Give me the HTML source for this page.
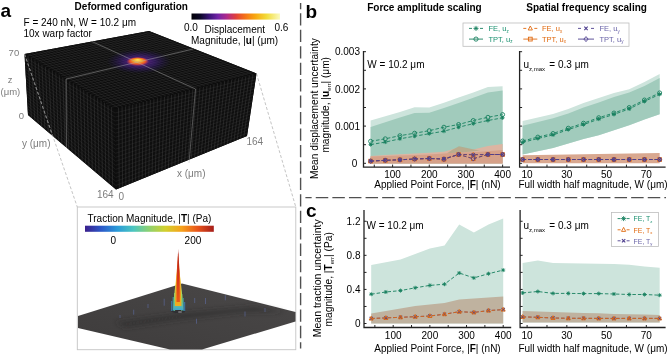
<!DOCTYPE html>
<html><head><meta charset="utf-8"><style>
html,body{margin:0;padding:0;background:#fff;width:668px;height:355px;overflow:hidden}
svg{display:block;font-family:"Liberation Sans", sans-serif;will-change:transform}
</style></head><body>
<svg width="668" height="355" viewBox="0 0 668 355">
<text x="0.6" y="17.2" font-size="19" font-weight="bold" fill="#000" text-anchor="start" >a</text>
<text x="74.6" y="9.6" font-size="10" font-weight="bold" fill="#000" text-anchor="start" >Deformed configuration</text>
<text x="23.5" y="25.6" font-size="10" font-weight="normal" fill="#000" text-anchor="start" >F = 240 nN, W = 10.2 μm</text>
<text x="23.5" y="37.3" font-size="10" font-weight="normal" fill="#000" text-anchor="start" >10x warp factor</text>
<defs><linearGradient id="inf" x1="0" x2="1" y1="0" y2="0"><stop offset="0" stop-color="#000006"/><stop offset="0.1" stop-color="#0c0828"/><stop offset="0.2" stop-color="#3a1478"/><stop offset="0.3" stop-color="#7424a8"/><stop offset="0.4" stop-color="#b02a8a"/><stop offset="0.5" stop-color="#e0403c"/><stop offset="0.6" stop-color="#f47018"/><stop offset="0.72" stop-color="#f8a810"/><stop offset="0.85" stop-color="#f2dc3c"/><stop offset="1" stop-color="#fafac0"/></linearGradient>
<linearGradient id="jet" x1="0" x2="1" y1="0" y2="0"><stop offset="0.000" stop-color="#3b1f8c"/><stop offset="0.125" stop-color="#2c58c8"/><stop offset="0.250" stop-color="#2a9ad8"/><stop offset="0.375" stop-color="#4cc6c0"/><stop offset="0.500" stop-color="#8fd16f"/><stop offset="0.625" stop-color="#d2d02e"/><stop offset="0.750" stop-color="#f7a21c"/><stop offset="0.875" stop-color="#e8541a"/><stop offset="1.000" stop-color="#a51d1a"/></linearGradient>
<radialGradient id="hot" cx="0.5" cy="0.5" r="0.5" fx="0.5" fy="0.3"><stop offset="0" stop-color="#fbe66a"/><stop offset="0.35" stop-color="#f9b020"/><stop offset="0.7" stop-color="#e4502c"/><stop offset="1" stop-color="#a02a70" stop-opacity="0"/></radialGradient>
<radialGradient id="halo" cx="0.5" cy="0.5" r="0.5"><stop offset="0" stop-color="#7a2a9a" stop-opacity="0.9"/><stop offset="0.5" stop-color="#4a2090" stop-opacity="0.55"/><stop offset="1" stop-color="#201060" stop-opacity="0"/></radialGradient>
</defs>
<rect x="191.5" y="13.5" width="88.5" height="6.1" fill="url(#inf)"/>
<text x="184" y="30.5" font-size="10" font-weight="normal" fill="#000" text-anchor="start" >0.0</text>
<text x="204.5" y="33.2" font-size="10" font-weight="normal" fill="#000" text-anchor="start" >Displacement</text>
<text x="274.5" y="30.5" font-size="10" font-weight="normal" fill="#000" text-anchor="start" >0.6</text>
<text x="191" y="44.2" font-size="10" font-weight="normal" fill="#000" text-anchor="start" >Magnitude, |<tspan font-weight="bold">u</tspan>| (μm)</text>
<polygon points="24.50,54.00 149.00,31.00 256.50,73.50 247.00,136.00 116.00,189.50 28.00,115.00" fill="#0e0e0e" />
<polygon points="24.50,54.00 115.00,109.00 116.00,189.50 28.00,115.00" fill="#0e0e0e" />
<polygon points="115.00,109.00 256.50,73.50 247.00,136.00 116.00,189.50" fill="#0e0e0e" />
<polygon points="24.50,54.00 149.00,31.00 256.50,73.50 115.00,109.00" fill="#0c0c0c" />
<line x1="27.98" y1="56.12" x2="31.38" y2="117.87" stroke="#4a4a4a" stroke-width="0.55" stroke-opacity="0.7"/>
<line x1="31.46" y1="58.23" x2="34.77" y2="120.73" stroke="#4a4a4a" stroke-width="0.55" stroke-opacity="0.7"/>
<line x1="34.94" y1="60.35" x2="38.15" y2="123.60" stroke="#4a4a4a" stroke-width="0.55" stroke-opacity="0.7"/>
<line x1="38.42" y1="62.46" x2="41.54" y2="126.46" stroke="#4a4a4a" stroke-width="0.55" stroke-opacity="0.7"/>
<line x1="41.90" y1="64.58" x2="44.92" y2="129.33" stroke="#4a4a4a" stroke-width="0.55" stroke-opacity="0.7"/>
<line x1="45.38" y1="66.69" x2="48.31" y2="132.19" stroke="#4a4a4a" stroke-width="0.55" stroke-opacity="0.7"/>
<line x1="48.87" y1="68.81" x2="51.69" y2="135.06" stroke="#4a4a4a" stroke-width="0.55" stroke-opacity="0.7"/>
<line x1="52.35" y1="70.92" x2="55.08" y2="137.92" stroke="#4a4a4a" stroke-width="0.55" stroke-opacity="0.7"/>
<line x1="55.83" y1="73.04" x2="58.46" y2="140.79" stroke="#4a4a4a" stroke-width="0.55" stroke-opacity="0.7"/>
<line x1="59.31" y1="75.15" x2="61.85" y2="143.65" stroke="#4a4a4a" stroke-width="0.55" stroke-opacity="0.7"/>
<line x1="62.79" y1="77.27" x2="65.23" y2="146.52" stroke="#4a4a4a" stroke-width="0.55" stroke-opacity="0.7"/>
<line x1="66.27" y1="79.38" x2="68.62" y2="149.38" stroke="#4a4a4a" stroke-width="0.55" stroke-opacity="0.7"/>
<line x1="69.75" y1="81.50" x2="72.00" y2="152.25" stroke="#4a4a4a" stroke-width="0.55" stroke-opacity="0.7"/>
<line x1="73.23" y1="83.62" x2="75.38" y2="155.12" stroke="#4a4a4a" stroke-width="0.55" stroke-opacity="0.7"/>
<line x1="76.71" y1="85.73" x2="78.77" y2="157.98" stroke="#4a4a4a" stroke-width="0.55" stroke-opacity="0.7"/>
<line x1="80.19" y1="87.85" x2="82.15" y2="160.85" stroke="#4a4a4a" stroke-width="0.55" stroke-opacity="0.7"/>
<line x1="83.67" y1="89.96" x2="85.54" y2="163.71" stroke="#4a4a4a" stroke-width="0.55" stroke-opacity="0.7"/>
<line x1="87.15" y1="92.08" x2="88.92" y2="166.58" stroke="#4a4a4a" stroke-width="0.55" stroke-opacity="0.7"/>
<line x1="90.63" y1="94.19" x2="92.31" y2="169.44" stroke="#4a4a4a" stroke-width="0.55" stroke-opacity="0.7"/>
<line x1="94.12" y1="96.31" x2="95.69" y2="172.31" stroke="#4a4a4a" stroke-width="0.55" stroke-opacity="0.7"/>
<line x1="97.60" y1="98.42" x2="99.08" y2="175.17" stroke="#4a4a4a" stroke-width="0.55" stroke-opacity="0.7"/>
<line x1="101.08" y1="100.54" x2="102.46" y2="178.04" stroke="#4a4a4a" stroke-width="0.55" stroke-opacity="0.7"/>
<line x1="104.56" y1="102.65" x2="105.85" y2="180.90" stroke="#4a4a4a" stroke-width="0.55" stroke-opacity="0.7"/>
<line x1="108.04" y1="104.77" x2="109.23" y2="183.77" stroke="#4a4a4a" stroke-width="0.55" stroke-opacity="0.7"/>
<line x1="111.52" y1="106.88" x2="112.62" y2="186.63" stroke="#4a4a4a" stroke-width="0.55" stroke-opacity="0.7"/>
<line x1="24.68" y1="57.05" x2="115.05" y2="113.03" stroke="#4a4a4a" stroke-width="0.5" stroke-opacity="0.45"/>
<line x1="24.85" y1="60.10" x2="115.10" y2="117.05" stroke="#4a4a4a" stroke-width="0.5" stroke-opacity="0.45"/>
<line x1="25.02" y1="63.15" x2="115.15" y2="121.08" stroke="#4a4a4a" stroke-width="0.5" stroke-opacity="0.45"/>
<line x1="25.20" y1="66.20" x2="115.20" y2="125.10" stroke="#4a4a4a" stroke-width="0.5" stroke-opacity="0.45"/>
<line x1="25.38" y1="69.25" x2="115.25" y2="129.12" stroke="#4a4a4a" stroke-width="0.5" stroke-opacity="0.45"/>
<line x1="25.55" y1="72.30" x2="115.30" y2="133.15" stroke="#4a4a4a" stroke-width="0.5" stroke-opacity="0.45"/>
<line x1="25.73" y1="75.35" x2="115.35" y2="137.18" stroke="#4a4a4a" stroke-width="0.5" stroke-opacity="0.45"/>
<line x1="25.90" y1="78.40" x2="115.40" y2="141.20" stroke="#4a4a4a" stroke-width="0.5" stroke-opacity="0.45"/>
<line x1="26.07" y1="81.45" x2="115.45" y2="145.22" stroke="#4a4a4a" stroke-width="0.5" stroke-opacity="0.45"/>
<line x1="26.25" y1="84.50" x2="115.50" y2="149.25" stroke="#4a4a4a" stroke-width="0.5" stroke-opacity="0.45"/>
<line x1="26.43" y1="87.55" x2="115.55" y2="153.28" stroke="#4a4a4a" stroke-width="0.5" stroke-opacity="0.45"/>
<line x1="26.60" y1="90.60" x2="115.60" y2="157.30" stroke="#4a4a4a" stroke-width="0.5" stroke-opacity="0.45"/>
<line x1="26.77" y1="93.65" x2="115.65" y2="161.32" stroke="#4a4a4a" stroke-width="0.5" stroke-opacity="0.45"/>
<line x1="26.95" y1="96.70" x2="115.70" y2="165.35" stroke="#4a4a4a" stroke-width="0.5" stroke-opacity="0.45"/>
<line x1="27.12" y1="99.75" x2="115.75" y2="169.38" stroke="#4a4a4a" stroke-width="0.5" stroke-opacity="0.45"/>
<line x1="27.30" y1="102.80" x2="115.80" y2="173.40" stroke="#4a4a4a" stroke-width="0.5" stroke-opacity="0.45"/>
<line x1="27.48" y1="105.85" x2="115.85" y2="177.43" stroke="#4a4a4a" stroke-width="0.5" stroke-opacity="0.45"/>
<line x1="27.65" y1="108.90" x2="115.90" y2="181.45" stroke="#4a4a4a" stroke-width="0.5" stroke-opacity="0.45"/>
<line x1="27.82" y1="111.95" x2="115.95" y2="185.47" stroke="#4a4a4a" stroke-width="0.5" stroke-opacity="0.45"/>
<line x1="118.54" y1="108.11" x2="119.28" y2="188.16" stroke="#4a4a4a" stroke-width="0.55" stroke-opacity="0.7"/>
<line x1="122.08" y1="107.22" x2="122.55" y2="186.82" stroke="#4a4a4a" stroke-width="0.55" stroke-opacity="0.7"/>
<line x1="125.61" y1="106.34" x2="125.83" y2="185.49" stroke="#4a4a4a" stroke-width="0.55" stroke-opacity="0.7"/>
<line x1="129.15" y1="105.45" x2="129.10" y2="184.15" stroke="#4a4a4a" stroke-width="0.55" stroke-opacity="0.7"/>
<line x1="132.69" y1="104.56" x2="132.38" y2="182.81" stroke="#4a4a4a" stroke-width="0.55" stroke-opacity="0.7"/>
<line x1="136.22" y1="103.67" x2="135.65" y2="181.47" stroke="#4a4a4a" stroke-width="0.55" stroke-opacity="0.7"/>
<line x1="139.76" y1="102.79" x2="138.93" y2="180.14" stroke="#4a4a4a" stroke-width="0.55" stroke-opacity="0.7"/>
<line x1="143.30" y1="101.90" x2="142.20" y2="178.80" stroke="#4a4a4a" stroke-width="0.55" stroke-opacity="0.7"/>
<line x1="146.84" y1="101.01" x2="145.47" y2="177.46" stroke="#4a4a4a" stroke-width="0.55" stroke-opacity="0.7"/>
<line x1="150.38" y1="100.12" x2="148.75" y2="176.12" stroke="#4a4a4a" stroke-width="0.55" stroke-opacity="0.7"/>
<line x1="153.91" y1="99.24" x2="152.03" y2="174.79" stroke="#4a4a4a" stroke-width="0.55" stroke-opacity="0.7"/>
<line x1="157.45" y1="98.35" x2="155.30" y2="173.45" stroke="#4a4a4a" stroke-width="0.55" stroke-opacity="0.7"/>
<line x1="160.99" y1="97.46" x2="158.57" y2="172.11" stroke="#4a4a4a" stroke-width="0.55" stroke-opacity="0.7"/>
<line x1="164.53" y1="96.58" x2="161.85" y2="170.78" stroke="#4a4a4a" stroke-width="0.55" stroke-opacity="0.7"/>
<line x1="168.06" y1="95.69" x2="165.12" y2="169.44" stroke="#4a4a4a" stroke-width="0.55" stroke-opacity="0.7"/>
<line x1="171.60" y1="94.80" x2="168.40" y2="168.10" stroke="#4a4a4a" stroke-width="0.55" stroke-opacity="0.7"/>
<line x1="175.14" y1="93.91" x2="171.68" y2="166.76" stroke="#4a4a4a" stroke-width="0.55" stroke-opacity="0.7"/>
<line x1="178.68" y1="93.03" x2="174.95" y2="165.43" stroke="#4a4a4a" stroke-width="0.55" stroke-opacity="0.7"/>
<line x1="182.21" y1="92.14" x2="178.22" y2="164.09" stroke="#4a4a4a" stroke-width="0.55" stroke-opacity="0.7"/>
<line x1="185.75" y1="91.25" x2="181.50" y2="162.75" stroke="#4a4a4a" stroke-width="0.55" stroke-opacity="0.7"/>
<line x1="189.29" y1="90.36" x2="184.78" y2="161.41" stroke="#4a4a4a" stroke-width="0.55" stroke-opacity="0.7"/>
<line x1="192.82" y1="89.47" x2="188.05" y2="160.07" stroke="#4a4a4a" stroke-width="0.55" stroke-opacity="0.7"/>
<line x1="196.36" y1="88.59" x2="191.32" y2="158.74" stroke="#4a4a4a" stroke-width="0.55" stroke-opacity="0.7"/>
<line x1="199.90" y1="87.70" x2="194.60" y2="157.40" stroke="#4a4a4a" stroke-width="0.55" stroke-opacity="0.7"/>
<line x1="203.44" y1="86.81" x2="197.88" y2="156.06" stroke="#4a4a4a" stroke-width="0.55" stroke-opacity="0.7"/>
<line x1="206.98" y1="85.92" x2="201.15" y2="154.72" stroke="#4a4a4a" stroke-width="0.55" stroke-opacity="0.7"/>
<line x1="210.51" y1="85.04" x2="204.43" y2="153.39" stroke="#4a4a4a" stroke-width="0.55" stroke-opacity="0.7"/>
<line x1="214.05" y1="84.15" x2="207.70" y2="152.05" stroke="#4a4a4a" stroke-width="0.55" stroke-opacity="0.7"/>
<line x1="217.59" y1="83.26" x2="210.97" y2="150.71" stroke="#4a4a4a" stroke-width="0.55" stroke-opacity="0.7"/>
<line x1="221.12" y1="82.38" x2="214.25" y2="149.38" stroke="#4a4a4a" stroke-width="0.55" stroke-opacity="0.7"/>
<line x1="224.66" y1="81.49" x2="217.53" y2="148.04" stroke="#4a4a4a" stroke-width="0.55" stroke-opacity="0.7"/>
<line x1="228.20" y1="80.60" x2="220.80" y2="146.70" stroke="#4a4a4a" stroke-width="0.55" stroke-opacity="0.7"/>
<line x1="231.74" y1="79.71" x2="224.07" y2="145.36" stroke="#4a4a4a" stroke-width="0.55" stroke-opacity="0.7"/>
<line x1="235.27" y1="78.83" x2="227.35" y2="144.03" stroke="#4a4a4a" stroke-width="0.55" stroke-opacity="0.7"/>
<line x1="238.81" y1="77.94" x2="230.62" y2="142.69" stroke="#4a4a4a" stroke-width="0.55" stroke-opacity="0.7"/>
<line x1="242.35" y1="77.05" x2="233.90" y2="141.35" stroke="#4a4a4a" stroke-width="0.55" stroke-opacity="0.7"/>
<line x1="245.89" y1="76.16" x2="237.18" y2="140.01" stroke="#4a4a4a" stroke-width="0.55" stroke-opacity="0.7"/>
<line x1="249.42" y1="75.28" x2="240.45" y2="138.68" stroke="#4a4a4a" stroke-width="0.55" stroke-opacity="0.7"/>
<line x1="252.96" y1="74.39" x2="243.72" y2="137.34" stroke="#4a4a4a" stroke-width="0.55" stroke-opacity="0.7"/>
<line x1="115.05" y1="113.03" x2="256.02" y2="76.62" stroke="#4a4a4a" stroke-width="0.5" stroke-opacity="0.45"/>
<line x1="115.10" y1="117.05" x2="255.55" y2="79.75" stroke="#4a4a4a" stroke-width="0.5" stroke-opacity="0.45"/>
<line x1="115.15" y1="121.08" x2="255.07" y2="82.88" stroke="#4a4a4a" stroke-width="0.5" stroke-opacity="0.45"/>
<line x1="115.20" y1="125.10" x2="254.60" y2="86.00" stroke="#4a4a4a" stroke-width="0.5" stroke-opacity="0.45"/>
<line x1="115.25" y1="129.12" x2="254.12" y2="89.12" stroke="#4a4a4a" stroke-width="0.5" stroke-opacity="0.45"/>
<line x1="115.30" y1="133.15" x2="253.65" y2="92.25" stroke="#4a4a4a" stroke-width="0.5" stroke-opacity="0.45"/>
<line x1="115.35" y1="137.18" x2="253.18" y2="95.38" stroke="#4a4a4a" stroke-width="0.5" stroke-opacity="0.45"/>
<line x1="115.40" y1="141.20" x2="252.70" y2="98.50" stroke="#4a4a4a" stroke-width="0.5" stroke-opacity="0.45"/>
<line x1="115.45" y1="145.22" x2="252.22" y2="101.62" stroke="#4a4a4a" stroke-width="0.5" stroke-opacity="0.45"/>
<line x1="115.50" y1="149.25" x2="251.75" y2="104.75" stroke="#4a4a4a" stroke-width="0.5" stroke-opacity="0.45"/>
<line x1="115.55" y1="153.28" x2="251.28" y2="107.88" stroke="#4a4a4a" stroke-width="0.5" stroke-opacity="0.45"/>
<line x1="115.60" y1="157.30" x2="250.80" y2="111.00" stroke="#4a4a4a" stroke-width="0.5" stroke-opacity="0.45"/>
<line x1="115.65" y1="161.32" x2="250.32" y2="114.12" stroke="#4a4a4a" stroke-width="0.5" stroke-opacity="0.45"/>
<line x1="115.70" y1="165.35" x2="249.85" y2="117.25" stroke="#4a4a4a" stroke-width="0.5" stroke-opacity="0.45"/>
<line x1="115.75" y1="169.38" x2="249.38" y2="120.38" stroke="#4a4a4a" stroke-width="0.5" stroke-opacity="0.45"/>
<line x1="115.80" y1="173.40" x2="248.90" y2="123.50" stroke="#4a4a4a" stroke-width="0.5" stroke-opacity="0.45"/>
<line x1="115.85" y1="177.43" x2="248.43" y2="126.62" stroke="#4a4a4a" stroke-width="0.5" stroke-opacity="0.45"/>
<line x1="115.90" y1="181.45" x2="247.95" y2="129.75" stroke="#4a4a4a" stroke-width="0.5" stroke-opacity="0.45"/>
<line x1="115.95" y1="185.47" x2="247.47" y2="132.88" stroke="#4a4a4a" stroke-width="0.5" stroke-opacity="0.45"/>
<line x1="27.96" y1="53.36" x2="118.93" y2="108.01" stroke="#4a4a4a" stroke-width="0.55" stroke-opacity="0.5"/>
<line x1="31.42" y1="52.72" x2="122.86" y2="107.03" stroke="#4a4a4a" stroke-width="0.55" stroke-opacity="0.5"/>
<line x1="34.88" y1="52.08" x2="126.79" y2="106.04" stroke="#4a4a4a" stroke-width="0.55" stroke-opacity="0.5"/>
<line x1="38.33" y1="51.44" x2="130.72" y2="105.06" stroke="#4a4a4a" stroke-width="0.55" stroke-opacity="0.5"/>
<line x1="41.79" y1="50.81" x2="134.65" y2="104.07" stroke="#4a4a4a" stroke-width="0.55" stroke-opacity="0.5"/>
<line x1="45.25" y1="50.17" x2="138.58" y2="103.08" stroke="#4a4a4a" stroke-width="0.55" stroke-opacity="0.5"/>
<line x1="48.71" y1="49.53" x2="142.51" y2="102.10" stroke="#4a4a4a" stroke-width="0.55" stroke-opacity="0.5"/>
<line x1="52.17" y1="48.89" x2="146.44" y2="101.11" stroke="#4a4a4a" stroke-width="0.55" stroke-opacity="0.5"/>
<line x1="55.62" y1="48.25" x2="150.38" y2="100.12" stroke="#4a4a4a" stroke-width="0.55" stroke-opacity="0.5"/>
<line x1="59.08" y1="47.61" x2="154.31" y2="99.14" stroke="#4a4a4a" stroke-width="0.55" stroke-opacity="0.5"/>
<line x1="62.54" y1="46.97" x2="158.24" y2="98.15" stroke="#4a4a4a" stroke-width="0.55" stroke-opacity="0.5"/>
<line x1="66.00" y1="46.33" x2="162.17" y2="97.17" stroke="#4a4a4a" stroke-width="0.55" stroke-opacity="0.5"/>
<line x1="69.46" y1="45.69" x2="166.10" y2="96.18" stroke="#4a4a4a" stroke-width="0.55" stroke-opacity="0.5"/>
<line x1="72.92" y1="45.06" x2="170.03" y2="95.19" stroke="#4a4a4a" stroke-width="0.55" stroke-opacity="0.5"/>
<line x1="76.38" y1="44.42" x2="173.96" y2="94.21" stroke="#4a4a4a" stroke-width="0.55" stroke-opacity="0.5"/>
<line x1="79.83" y1="43.78" x2="177.89" y2="93.22" stroke="#4a4a4a" stroke-width="0.55" stroke-opacity="0.5"/>
<line x1="83.29" y1="43.14" x2="181.82" y2="92.24" stroke="#4a4a4a" stroke-width="0.55" stroke-opacity="0.5"/>
<line x1="86.75" y1="42.50" x2="185.75" y2="91.25" stroke="#4a4a4a" stroke-width="0.55" stroke-opacity="0.5"/>
<line x1="90.21" y1="41.86" x2="189.68" y2="90.26" stroke="#4a4a4a" stroke-width="0.55" stroke-opacity="0.5"/>
<line x1="93.67" y1="41.22" x2="193.61" y2="89.28" stroke="#4a4a4a" stroke-width="0.55" stroke-opacity="0.5"/>
<line x1="97.12" y1="40.58" x2="197.54" y2="88.29" stroke="#4a4a4a" stroke-width="0.55" stroke-opacity="0.5"/>
<line x1="100.58" y1="39.94" x2="201.47" y2="87.31" stroke="#4a4a4a" stroke-width="0.55" stroke-opacity="0.5"/>
<line x1="104.04" y1="39.31" x2="205.40" y2="86.32" stroke="#4a4a4a" stroke-width="0.55" stroke-opacity="0.5"/>
<line x1="107.50" y1="38.67" x2="209.33" y2="85.33" stroke="#4a4a4a" stroke-width="0.55" stroke-opacity="0.5"/>
<line x1="110.96" y1="38.03" x2="213.26" y2="84.35" stroke="#4a4a4a" stroke-width="0.55" stroke-opacity="0.5"/>
<line x1="114.42" y1="37.39" x2="217.19" y2="83.36" stroke="#4a4a4a" stroke-width="0.55" stroke-opacity="0.5"/>
<line x1="117.88" y1="36.75" x2="221.12" y2="82.38" stroke="#4a4a4a" stroke-width="0.55" stroke-opacity="0.5"/>
<line x1="121.33" y1="36.11" x2="225.06" y2="81.39" stroke="#4a4a4a" stroke-width="0.55" stroke-opacity="0.5"/>
<line x1="124.79" y1="35.47" x2="228.99" y2="80.40" stroke="#4a4a4a" stroke-width="0.55" stroke-opacity="0.5"/>
<line x1="128.25" y1="34.83" x2="232.92" y2="79.42" stroke="#4a4a4a" stroke-width="0.55" stroke-opacity="0.5"/>
<line x1="131.71" y1="34.19" x2="236.85" y2="78.43" stroke="#4a4a4a" stroke-width="0.55" stroke-opacity="0.5"/>
<line x1="135.17" y1="33.56" x2="240.78" y2="77.44" stroke="#4a4a4a" stroke-width="0.55" stroke-opacity="0.5"/>
<line x1="138.62" y1="32.92" x2="244.71" y2="76.46" stroke="#4a4a4a" stroke-width="0.55" stroke-opacity="0.5"/>
<line x1="142.08" y1="32.28" x2="248.64" y2="75.47" stroke="#4a4a4a" stroke-width="0.55" stroke-opacity="0.5"/>
<line x1="145.54" y1="31.64" x2="252.57" y2="74.49" stroke="#4a4a4a" stroke-width="0.55" stroke-opacity="0.5"/>
<line x1="27.52" y1="55.83" x2="152.58" y2="32.42" stroke="#4a4a4a" stroke-width="0.5" stroke-opacity="0.5"/>
<line x1="30.53" y1="57.67" x2="156.17" y2="33.83" stroke="#4a4a4a" stroke-width="0.5" stroke-opacity="0.5"/>
<line x1="33.55" y1="59.50" x2="159.75" y2="35.25" stroke="#4a4a4a" stroke-width="0.5" stroke-opacity="0.5"/>
<line x1="36.57" y1="61.33" x2="163.33" y2="36.67" stroke="#4a4a4a" stroke-width="0.5" stroke-opacity="0.5"/>
<line x1="39.58" y1="63.17" x2="166.92" y2="38.08" stroke="#4a4a4a" stroke-width="0.5" stroke-opacity="0.5"/>
<line x1="42.60" y1="65.00" x2="170.50" y2="39.50" stroke="#4a4a4a" stroke-width="0.5" stroke-opacity="0.5"/>
<line x1="45.62" y1="66.83" x2="174.08" y2="40.92" stroke="#4a4a4a" stroke-width="0.5" stroke-opacity="0.5"/>
<line x1="48.63" y1="68.67" x2="177.67" y2="42.33" stroke="#4a4a4a" stroke-width="0.5" stroke-opacity="0.5"/>
<line x1="51.65" y1="70.50" x2="181.25" y2="43.75" stroke="#4a4a4a" stroke-width="0.5" stroke-opacity="0.5"/>
<line x1="54.67" y1="72.33" x2="184.83" y2="45.17" stroke="#4a4a4a" stroke-width="0.5" stroke-opacity="0.5"/>
<line x1="57.68" y1="74.17" x2="188.42" y2="46.58" stroke="#4a4a4a" stroke-width="0.5" stroke-opacity="0.5"/>
<line x1="60.70" y1="76.00" x2="192.00" y2="48.00" stroke="#4a4a4a" stroke-width="0.5" stroke-opacity="0.5"/>
<line x1="63.72" y1="77.83" x2="195.58" y2="49.42" stroke="#4a4a4a" stroke-width="0.5" stroke-opacity="0.5"/>
<line x1="66.73" y1="79.67" x2="199.17" y2="50.83" stroke="#4a4a4a" stroke-width="0.5" stroke-opacity="0.5"/>
<line x1="69.75" y1="81.50" x2="202.75" y2="52.25" stroke="#4a4a4a" stroke-width="0.5" stroke-opacity="0.5"/>
<line x1="72.77" y1="83.33" x2="206.33" y2="53.67" stroke="#4a4a4a" stroke-width="0.5" stroke-opacity="0.5"/>
<line x1="75.78" y1="85.17" x2="209.92" y2="55.08" stroke="#4a4a4a" stroke-width="0.5" stroke-opacity="0.5"/>
<line x1="78.80" y1="87.00" x2="213.50" y2="56.50" stroke="#4a4a4a" stroke-width="0.5" stroke-opacity="0.5"/>
<line x1="81.82" y1="88.83" x2="217.08" y2="57.92" stroke="#4a4a4a" stroke-width="0.5" stroke-opacity="0.5"/>
<line x1="84.83" y1="90.67" x2="220.67" y2="59.33" stroke="#4a4a4a" stroke-width="0.5" stroke-opacity="0.5"/>
<line x1="87.85" y1="92.50" x2="224.25" y2="60.75" stroke="#4a4a4a" stroke-width="0.5" stroke-opacity="0.5"/>
<line x1="90.87" y1="94.33" x2="227.83" y2="62.17" stroke="#4a4a4a" stroke-width="0.5" stroke-opacity="0.5"/>
<line x1="93.88" y1="96.17" x2="231.42" y2="63.58" stroke="#4a4a4a" stroke-width="0.5" stroke-opacity="0.5"/>
<line x1="96.90" y1="98.00" x2="235.00" y2="65.00" stroke="#4a4a4a" stroke-width="0.5" stroke-opacity="0.5"/>
<line x1="99.92" y1="99.83" x2="238.58" y2="66.42" stroke="#4a4a4a" stroke-width="0.5" stroke-opacity="0.5"/>
<line x1="102.93" y1="101.67" x2="242.17" y2="67.83" stroke="#4a4a4a" stroke-width="0.5" stroke-opacity="0.5"/>
<line x1="105.95" y1="103.50" x2="245.75" y2="69.25" stroke="#4a4a4a" stroke-width="0.5" stroke-opacity="0.5"/>
<line x1="108.97" y1="105.33" x2="249.33" y2="70.67" stroke="#4a4a4a" stroke-width="0.5" stroke-opacity="0.5"/>
<line x1="111.98" y1="107.17" x2="252.92" y2="72.08" stroke="#4a4a4a" stroke-width="0.5" stroke-opacity="0.5"/>
<ellipse cx="139" cy="61.5" rx="32" ry="12" fill="url(#halo)"/>
<ellipse cx="137.7" cy="61.6" rx="11.5" ry="4.6" fill="url(#hot)"/>
<line x1="91.90" y1="41.50" x2="195.50" y2="89.00" stroke="#b0b0b0" stroke-width="0.7" stroke-opacity="0.65"/>
<line x1="66.00" y1="79.00" x2="193.00" y2="49.00" stroke="#b0b0b0" stroke-width="0.7" stroke-opacity="0.65"/>
<line x1="195.50" y1="89.00" x2="189.00" y2="163.00" stroke="#b0b0b0" stroke-width="0.7" stroke-opacity="0.6"/>
<line x1="66.00" y1="79.00" x2="66.50" y2="148.00" stroke="#b0b0b0" stroke-width="0.7" stroke-opacity="0.6"/>
<text x="8.6" y="56.3" font-size="9.5" font-weight="normal" fill="#7c7c7c" text-anchor="start" >70</text>
<text x="7.8" y="83.2" font-size="9.5" font-weight="normal" fill="#7c7c7c" text-anchor="start" >z</text>
<text x="0.5" y="95.3" font-size="9.5" font-weight="normal" fill="#7c7c7c" text-anchor="start" >(μm)</text>
<text x="18.8" y="119.3" font-size="9.5" font-weight="normal" fill="#7c7c7c" text-anchor="start" >0</text>
<text x="22" y="146.5" font-size="10" font-weight="normal" fill="#7c7c7c" text-anchor="start" >y (μm)</text>
<text x="246.5" y="145.4" font-size="10" font-weight="normal" fill="#7c7c7c" text-anchor="start" >164</text>
<text x="177" y="176.5" font-size="10" font-weight="normal" fill="#7c7c7c" text-anchor="start" >x (μm)</text>
<text x="97" y="198" font-size="10" font-weight="normal" fill="#7c7c7c" text-anchor="start" >164</text>
<text x="118.5" y="199.5" font-size="10" font-weight="normal" fill="#7c7c7c" text-anchor="start" >0</text>
<line x1="24.50" y1="54.00" x2="77.30" y2="207.00" stroke="#aaaaaa" stroke-width="0.7" stroke-dasharray="3,2"/>
<line x1="256.50" y1="73.50" x2="295.80" y2="207.00" stroke="#aaaaaa" stroke-width="0.7" stroke-dasharray="3,2"/>
<line x1="24.50" y1="54.00" x2="52.20" y2="135.00" stroke="#8c8c8c" stroke-width="0.55" stroke-dasharray="3,2"/>
<rect x="77.3" y="207" width="218.5" height="142.7" fill="#fff" stroke="#c4c4c4" stroke-width="0.9"/>
<text x="87.5" y="221.9" font-size="10" font-weight="normal" fill="#000" text-anchor="start" >Traction Magnitude, |<tspan font-weight="bold">T</tspan>| (Pa)</text>
<rect x="85" y="225.7" width="128.8" height="6.1" fill="url(#jet)"/>
<text x="110.5" y="243.6" font-size="10" font-weight="normal" fill="#000" text-anchor="start" >0</text>
<text x="184.6" y="243.6" font-size="10" font-weight="normal" fill="#000" text-anchor="start" >200</text>
<defs><linearGradient id="spk" x1="0" x2="0" y1="0" y2="1"><stop offset="0" stop-color="#a01818"/><stop offset="0.35" stop-color="#e0401a"/><stop offset="0.6" stop-color="#f49a1c"/><stop offset="0.78" stop-color="#eedc34"/><stop offset="0.9" stop-color="#90d060"/><stop offset="1" stop-color="#40b0c8"/></linearGradient></defs>
<defs><linearGradient id="surf" x1="0" x2="1" y1="1" y2="0"><stop offset="0" stop-color="#3e3c3c"/><stop offset="0.5" stop-color="#444242"/><stop offset="1" stop-color="#4a4848"/></linearGradient></defs>
<polygon points="78.00,316.00 182.00,283.50 295.50,312.00 295.50,321.50 202.00,349.40 170.00,349.40 78.00,328.00" fill="url(#surf)" />
<defs><filter id="bl" x="-20%" y="-50%" width="140%" height="200%"><feGaussianBlur stdDeviation="2.5"/></filter></defs>
<polygon points="115,322 180,313 255,306 285,312 240,313 180,320 125,328" fill="#2e2c2c" fill-opacity="0.5" filter="url(#bl)"/>
<line x1="133.70" y1="314.70" x2="133.70" y2="309.70" stroke="#6a80d0" stroke-width="0.7" stroke-opacity="0.6"/>
<line x1="148.00" y1="308.00" x2="148.00" y2="304.00" stroke="#6a80d0" stroke-width="0.7" stroke-opacity="0.6"/>
<line x1="164.20" y1="305.70" x2="164.20" y2="298.70" stroke="#6a80d0" stroke-width="0.7" stroke-opacity="0.6"/>
<line x1="194.70" y1="303.00" x2="194.70" y2="298.00" stroke="#6a80d0" stroke-width="0.7" stroke-opacity="0.6"/>
<line x1="205.50" y1="304.00" x2="205.50" y2="298.00" stroke="#6a80d0" stroke-width="0.7" stroke-opacity="0.6"/>
<line x1="225.30" y1="300.30" x2="225.30" y2="295.30" stroke="#6a80d0" stroke-width="0.7" stroke-opacity="0.6"/>
<line x1="245.00" y1="316.50" x2="245.00" y2="311.50" stroke="#6a80d0" stroke-width="0.7" stroke-opacity="0.6"/>
<line x1="196.50" y1="323.70" x2="196.50" y2="318.70" stroke="#6a80d0" stroke-width="0.7" stroke-opacity="0.6"/>
<line x1="120.00" y1="318.00" x2="120.00" y2="315.00" stroke="#6a80d0" stroke-width="0.7" stroke-opacity="0.6"/>
<line x1="265.00" y1="312.00" x2="265.00" y2="308.00" stroke="#6a80d0" stroke-width="0.7" stroke-opacity="0.6"/>
<ellipse cx="178.2" cy="311" rx="7" ry="2.2" fill="#25252c" fill-opacity="0.6"/>
<line x1="171.70" y1="311.00" x2="171.70" y2="301.00" stroke="#3a8ad0" stroke-width="0.9" stroke-opacity="0.9"/>
<line x1="173.20" y1="311.00" x2="173.20" y2="297.00" stroke="#40b8c8" stroke-width="0.9" stroke-opacity="0.9"/>
<line x1="174.60" y1="311.00" x2="174.60" y2="293.00" stroke="#70d090" stroke-width="0.9" stroke-opacity="0.9"/>
<line x1="181.80" y1="311.00" x2="181.80" y2="294.00" stroke="#70d090" stroke-width="0.9" stroke-opacity="0.9"/>
<line x1="183.20" y1="311.00" x2="183.20" y2="298.00" stroke="#40b8c8" stroke-width="0.9" stroke-opacity="0.9"/>
<line x1="184.70" y1="311.00" x2="184.70" y2="302.00" stroke="#3a8ad0" stroke-width="0.9" stroke-opacity="0.9"/>
<defs><linearGradient id="spy" x1="0" x2="0" y1="0" y2="1"><stop offset="0" stop-color="#f0c020"/><stop offset="0.5" stop-color="#e8e040"/><stop offset="0.8" stop-color="#80d070"/><stop offset="1" stop-color="#40a8d0"/></linearGradient><linearGradient id="spo" x1="0" x2="0" y1="0" y2="1"><stop offset="0" stop-color="#e04818"/><stop offset="0.6" stop-color="#f08a18"/><stop offset="1" stop-color="#f0b020"/></linearGradient></defs>
<polygon points="178.2,262 180.5,280 182.2,295 183.4,310 173,310 174.2,295 175.9,280" fill="url(#spy)"/>
<polygon points="178.2,252 179.7,272 180.9,292 181.5,306 174.9,306 175.5,292 176.7,272" fill="url(#spo)"/>
<defs><linearGradient id="core" x1="0" x2="0" y1="0" y2="1"><stop offset="0" stop-color="#a01818"/><stop offset="0.5" stop-color="#d83018"/><stop offset="1" stop-color="#e85a18"/></linearGradient></defs>
<polygon points="178.2,249 179.1,268 179.7,290 179.9,302 176.5,302 176.7,290 177.3,268" fill="url(#core)"/>
<ellipse cx="180" cy="312" rx="2.2" ry="1" fill="#b0b0b0" fill-opacity="0.5"/>
<line x1="300.60" y1="3.00" x2="300.60" y2="348.60" stroke="#505050" stroke-width="1.4" stroke-dasharray="12.3,4.15" stroke-dashoffset="6.15"/>
<line x1="305.40" y1="197.60" x2="666.00" y2="197.60" stroke="#505050" stroke-width="1.4" stroke-dasharray="12.5,4.1" stroke-dashoffset="6.25"/>
<text x="305.5" y="17.6" font-size="19" font-weight="bold" fill="#000" text-anchor="start" >b</text>
<text x="306" y="216.7" font-size="19" font-weight="bold" fill="#000" text-anchor="start" >c</text>
<text x="367.2" y="11" font-size="10" font-weight="bold" fill="#000" text-anchor="start" >Force amplitude scaling</text>
<text x="526.3" y="11.1" font-size="10" font-weight="bold" fill="#000" text-anchor="start" >Spatial frequency scaling</text>
<polygon points="370.60,120.50 385.27,116.30 399.93,112.00 414.60,107.30 429.27,107.50 443.94,102.80 458.60,97.50 473.27,92.50 487.94,87.00 502.60,86.20 502.60,163.40 487.94,163.40 473.27,163.40 458.60,163.40 443.94,163.40 429.27,163.40 414.60,163.40 399.93,163.40 385.27,163.40 370.60,163.40" fill="#cde4dc" fill-opacity="1"/>
<polygon points="370.60,126.90 385.27,122.30 399.93,117.60 414.60,113.00 429.27,112.80 443.94,108.00 458.60,103.00 473.27,97.80 487.94,92.50 502.60,90.50 502.60,163.40 487.94,163.40 473.27,163.40 458.60,163.40 443.94,163.40 429.27,163.40 414.60,163.40 399.93,163.40 385.27,163.40 370.60,163.40" fill="#a1cbbc" fill-opacity="1"/>
<polygon points="370.60,156.00 385.27,155.00 399.93,154.20 414.60,153.50 429.27,152.80 443.94,151.80 458.60,147.50 473.27,149.50 487.94,146.00 502.60,144.00 502.60,163.60 487.94,163.60 473.27,163.60 458.60,163.60 443.94,163.60 429.27,163.60 414.60,163.60 399.93,163.60 385.27,163.60 370.60,163.60" fill="#dcb5a2" fill-opacity="1"/>
<polygon points="370.60,156.50 385.27,156.00 399.93,155.50 414.60,155.00 429.27,154.50 443.94,153.50 458.60,152.50 473.27,152.30 487.94,151.20 502.60,150.00 502.60,163.60 487.94,163.60 473.27,163.60 458.60,163.60 443.94,163.60 429.27,163.60 414.60,163.60 399.93,163.60 385.27,163.60 370.60,163.60" fill="#d6a189" fill-opacity="1"/>
<polygon points="447,153.2 452,150 459,146.2 466,147.8 474,149.5 480,150.6 470,151.8 459,152.4" fill="#b3a98a" fill-opacity="0.85"/>
<polyline points="370.60,141.30 385.27,138.80 399.93,135.70 414.60,133.20 429.27,130.70 443.94,127.20 458.60,124.50 473.27,120.50 487.94,117.30 502.60,114.60" fill="none" stroke="#17805f" stroke-width="0.9" stroke-dasharray="3.5,2"/>
<circle cx="370.6" cy="141.3" r="2.0" stroke="#17805f" stroke-width="0.9" fill="none"/>
<circle cx="385.267" cy="138.8" r="2.0" stroke="#17805f" stroke-width="0.9" fill="none"/>
<circle cx="399.934" cy="135.7" r="2.0" stroke="#17805f" stroke-width="0.9" fill="none"/>
<circle cx="414.601" cy="133.2" r="2.0" stroke="#17805f" stroke-width="0.9" fill="none"/>
<circle cx="429.26800000000003" cy="130.7" r="2.0" stroke="#17805f" stroke-width="0.9" fill="none"/>
<circle cx="443.935" cy="127.2" r="2.0" stroke="#17805f" stroke-width="0.9" fill="none"/>
<circle cx="458.60200000000003" cy="124.5" r="2.0" stroke="#17805f" stroke-width="0.9" fill="none"/>
<circle cx="473.269" cy="120.5" r="2.0" stroke="#17805f" stroke-width="0.9" fill="none"/>
<circle cx="487.93600000000004" cy="117.3" r="2.0" stroke="#17805f" stroke-width="0.9" fill="none"/>
<circle cx="502.603" cy="114.6" r="2.0" stroke="#17805f" stroke-width="0.9" fill="none"/>
<polyline points="370.60,144.60 385.27,142.10 399.93,138.80 414.60,136.20 429.27,133.70 443.94,131.20 458.60,127.20 473.27,123.70 487.94,120.50 502.60,117.80" fill="none" stroke="#17805f" stroke-width="0.9" stroke-dasharray="3.5,2"/>
<path d="M368.6,144.6H372.6M370.6,142.6V146.6M369.20000000000005,143.2L372.0,146.0M369.20000000000005,146.0L372.0,143.2" stroke="#17805f" stroke-width="0.9" fill="none"/>
<path d="M383.267,142.1H387.267M385.267,140.1V144.1M383.867,140.7L386.667,143.5M383.867,143.5L386.667,140.7" stroke="#17805f" stroke-width="0.9" fill="none"/>
<path d="M397.934,138.8H401.934M399.934,136.8V140.8M398.53400000000005,137.4L401.334,140.20000000000002M398.53400000000005,140.20000000000002L401.334,137.4" stroke="#17805f" stroke-width="0.9" fill="none"/>
<path d="M412.601,136.2H416.601M414.601,134.2V138.2M413.201,134.79999999999998L416.001,137.6M413.201,137.6L416.001,134.79999999999998" stroke="#17805f" stroke-width="0.9" fill="none"/>
<path d="M427.26800000000003,133.7H431.26800000000003M429.26800000000003,131.7V135.7M427.86800000000005,132.29999999999998L430.668,135.1M427.86800000000005,135.1L430.668,132.29999999999998" stroke="#17805f" stroke-width="0.9" fill="none"/>
<path d="M441.935,131.2H445.935M443.935,129.2V133.2M442.535,129.79999999999998L445.335,132.6M442.535,132.6L445.335,129.79999999999998" stroke="#17805f" stroke-width="0.9" fill="none"/>
<path d="M456.60200000000003,127.2H460.60200000000003M458.60200000000003,125.2V129.2M457.20200000000006,125.8L460.002,128.6M457.20200000000006,128.6L460.002,125.8" stroke="#17805f" stroke-width="0.9" fill="none"/>
<path d="M471.269,123.7H475.269M473.269,121.7V125.7M471.869,122.3L474.669,125.10000000000001M471.869,125.10000000000001L474.669,122.3" stroke="#17805f" stroke-width="0.9" fill="none"/>
<path d="M485.93600000000004,120.5H489.93600000000004M487.93600000000004,118.5V122.5M486.53600000000006,119.1L489.336,121.9M486.53600000000006,121.9L489.336,119.1" stroke="#17805f" stroke-width="0.9" fill="none"/>
<path d="M500.603,117.8H504.603M502.603,115.8V119.8M501.20300000000003,116.39999999999999L504.003,119.2M501.20300000000003,119.2L504.003,116.39999999999999" stroke="#17805f" stroke-width="0.9" fill="none"/>
<polyline points="370.60,161.10 385.27,160.30 399.93,159.80 414.60,159.00 429.27,158.50 443.94,158.80 458.60,154.50 473.27,154.70 487.94,154.50 502.60,154.50" fill="none" stroke="#e06a10" stroke-width="0.9" stroke-dasharray="3.5,2"/>
<polygon points="370.6,158.79999999999998 372.6,162.6 368.6,162.6" stroke="#e06a10" stroke-width="0.9" fill="none"/>
<polygon points="385.267,158.0 387.267,161.8 383.267,161.8" stroke="#e06a10" stroke-width="0.9" fill="none"/>
<polygon points="399.934,157.5 401.934,161.3 397.934,161.3" stroke="#e06a10" stroke-width="0.9" fill="none"/>
<polygon points="414.601,156.7 416.601,160.5 412.601,160.5" stroke="#e06a10" stroke-width="0.9" fill="none"/>
<polygon points="429.26800000000003,156.2 431.26800000000003,160.0 427.26800000000003,160.0" stroke="#e06a10" stroke-width="0.9" fill="none"/>
<polygon points="443.935,156.5 445.935,160.3 441.935,160.3" stroke="#e06a10" stroke-width="0.9" fill="none"/>
<polygon points="458.60200000000003,152.2 460.60200000000003,156.0 456.60200000000003,156.0" stroke="#e06a10" stroke-width="0.9" fill="none"/>
<polygon points="473.269,152.39999999999998 475.269,156.2 471.269,156.2" stroke="#e06a10" stroke-width="0.9" fill="none"/>
<polygon points="487.93600000000004,152.2 489.93600000000004,156.0 485.93600000000004,156.0" stroke="#e06a10" stroke-width="0.9" fill="none"/>
<polygon points="502.603,152.2 504.603,156.0 500.603,156.0" stroke="#e06a10" stroke-width="0.9" fill="none"/>
<polyline points="370.60,161.10 385.27,160.30 399.93,159.80 414.60,159.00 429.27,158.50 443.94,159.30 458.60,154.50 473.27,158.70 487.94,154.50 502.60,154.50" fill="none" stroke="#e06a10" stroke-width="0.9" stroke-dasharray="3.5,2"/>
<rect x="368.8" y="159.29999999999998" width="3.6" height="3.6" stroke="#e06a10" stroke-width="0.9" fill="none"/>
<rect x="383.467" y="158.5" width="3.6" height="3.6" stroke="#e06a10" stroke-width="0.9" fill="none"/>
<rect x="398.134" y="158.0" width="3.6" height="3.6" stroke="#e06a10" stroke-width="0.9" fill="none"/>
<rect x="412.801" y="157.2" width="3.6" height="3.6" stroke="#e06a10" stroke-width="0.9" fill="none"/>
<rect x="427.468" y="156.7" width="3.6" height="3.6" stroke="#e06a10" stroke-width="0.9" fill="none"/>
<rect x="442.135" y="157.5" width="3.6" height="3.6" stroke="#e06a10" stroke-width="0.9" fill="none"/>
<rect x="456.802" y="152.7" width="3.6" height="3.6" stroke="#e06a10" stroke-width="0.9" fill="none"/>
<rect x="471.469" y="156.89999999999998" width="3.6" height="3.6" stroke="#e06a10" stroke-width="0.9" fill="none"/>
<rect x="486.136" y="152.7" width="3.6" height="3.6" stroke="#e06a10" stroke-width="0.9" fill="none"/>
<rect x="500.803" y="152.7" width="3.6" height="3.6" stroke="#e06a10" stroke-width="0.9" fill="none"/>
<polyline points="370.60,161.10 385.27,160.30 399.93,159.80 414.60,159.00 429.27,158.50 443.94,158.80 458.60,154.50 473.27,154.70 487.94,154.50 502.60,154.50" fill="none" stroke="#4e3f8e" stroke-width="0.9" stroke-dasharray="3.5,2"/>
<path d="M369.0,159.5L372.20000000000005,162.7M369.0,162.7L372.20000000000005,159.5" stroke="#4e3f8e" stroke-width="1.1" fill="none"/>
<path d="M383.667,158.70000000000002L386.867,161.9M383.667,161.9L386.867,158.70000000000002" stroke="#4e3f8e" stroke-width="1.1" fill="none"/>
<path d="M398.334,158.20000000000002L401.53400000000005,161.4M398.334,161.4L401.53400000000005,158.20000000000002" stroke="#4e3f8e" stroke-width="1.1" fill="none"/>
<path d="M413.001,157.4L416.201,160.6M413.001,160.6L416.201,157.4" stroke="#4e3f8e" stroke-width="1.1" fill="none"/>
<path d="M427.668,156.9L430.86800000000005,160.1M427.668,160.1L430.86800000000005,156.9" stroke="#4e3f8e" stroke-width="1.1" fill="none"/>
<path d="M442.335,157.20000000000002L445.535,160.4M442.335,160.4L445.535,157.20000000000002" stroke="#4e3f8e" stroke-width="1.1" fill="none"/>
<path d="M457.002,152.9L460.20200000000006,156.1M457.002,156.1L460.20200000000006,152.9" stroke="#4e3f8e" stroke-width="1.1" fill="none"/>
<path d="M471.669,153.1L474.869,156.29999999999998M471.669,156.29999999999998L474.869,153.1" stroke="#4e3f8e" stroke-width="1.1" fill="none"/>
<path d="M486.336,152.9L489.53600000000006,156.1M486.336,156.1L489.53600000000006,152.9" stroke="#4e3f8e" stroke-width="1.1" fill="none"/>
<path d="M501.003,152.9L504.20300000000003,156.1M501.003,156.1L504.20300000000003,152.9" stroke="#4e3f8e" stroke-width="1.1" fill="none"/>
<polyline points="370.60,161.10 385.27,160.30 399.93,159.80 414.60,159.00 429.27,158.50 443.94,159.30 458.60,154.50 473.27,158.70 487.94,154.50 502.60,154.50" fill="none" stroke="#4e3f8e" stroke-width="0.9" stroke-dasharray="3.5,2"/>
<polygon points="370.6,158.7 372.6,161.1 370.6,163.5 368.6,161.1" stroke="#4e3f8e" stroke-width="0.9" fill="none"/>
<polygon points="385.267,157.9 387.267,160.3 385.267,162.70000000000002 383.267,160.3" stroke="#4e3f8e" stroke-width="0.9" fill="none"/>
<polygon points="399.934,157.4 401.934,159.8 399.934,162.20000000000002 397.934,159.8" stroke="#4e3f8e" stroke-width="0.9" fill="none"/>
<polygon points="414.601,156.6 416.601,159 414.601,161.4 412.601,159" stroke="#4e3f8e" stroke-width="0.9" fill="none"/>
<polygon points="429.26800000000003,156.1 431.26800000000003,158.5 429.26800000000003,160.9 427.26800000000003,158.5" stroke="#4e3f8e" stroke-width="0.9" fill="none"/>
<polygon points="443.935,156.9 445.935,159.3 443.935,161.70000000000002 441.935,159.3" stroke="#4e3f8e" stroke-width="0.9" fill="none"/>
<polygon points="458.60200000000003,152.1 460.60200000000003,154.5 458.60200000000003,156.9 456.60200000000003,154.5" stroke="#4e3f8e" stroke-width="0.9" fill="none"/>
<polygon points="473.269,156.29999999999998 475.269,158.7 473.269,161.1 471.269,158.7" stroke="#4e3f8e" stroke-width="0.9" fill="none"/>
<polygon points="487.93600000000004,152.1 489.93600000000004,154.5 487.93600000000004,156.9 485.93600000000004,154.5" stroke="#4e3f8e" stroke-width="0.9" fill="none"/>
<polygon points="502.603,152.1 504.603,154.5 502.603,156.9 500.603,154.5" stroke="#4e3f8e" stroke-width="0.9" fill="none"/>
<polygon points="522.60,121.00 537.83,117.50 553.06,113.90 568.29,109.00 583.52,103.00 598.75,98.00 613.98,93.00 629.21,89.20 644.44,82.00 659.67,73.90 659.67,114.20 644.44,119.60 629.21,125.20 613.98,130.20 598.75,135.30 583.52,139.00 568.29,143.50 553.06,148.00 537.83,151.30 522.60,154.60" fill="#cde4dc" fill-opacity="1"/>
<polygon points="522.60,125.70 537.83,122.00 553.06,118.30 568.29,113.50 583.52,107.50 598.75,102.50 613.98,97.00 629.21,92.50 644.44,86.00 659.67,78.00 659.67,114.20 644.44,119.60 629.21,125.20 613.98,130.20 598.75,135.30 583.52,139.00 568.29,143.50 553.06,148.00 537.83,151.30 522.60,154.60" fill="#a1cbbc" fill-opacity="1"/>
<polygon points="522.60,155.20 537.83,154.94 553.06,154.69 568.29,154.43 583.52,154.18 598.75,153.92 613.98,153.67 629.21,153.41 644.44,153.16 659.67,152.90 659.67,163.30 644.44,163.30 629.21,163.30 613.98,163.30 598.75,163.30 583.52,163.30 568.29,163.30 553.06,163.30 537.83,163.30 522.60,163.30" fill="#d9a890" fill-opacity="1"/>
<polyline points="522.60,141.00 537.83,137.10 553.06,133.50 568.29,128.20 583.52,123.20 598.75,117.70 613.98,113.00 629.21,107.50 644.44,100.00 659.67,92.90" fill="none" stroke="#17805f" stroke-width="0.9" stroke-dasharray="3.5,2"/>
<circle cx="522.6" cy="141.0" r="2.0" stroke="#17805f" stroke-width="0.9" fill="none"/>
<circle cx="537.83" cy="137.1" r="2.0" stroke="#17805f" stroke-width="0.9" fill="none"/>
<circle cx="553.0600000000001" cy="133.5" r="2.0" stroke="#17805f" stroke-width="0.9" fill="none"/>
<circle cx="568.29" cy="128.2" r="2.0" stroke="#17805f" stroke-width="0.9" fill="none"/>
<circle cx="583.52" cy="123.2" r="2.0" stroke="#17805f" stroke-width="0.9" fill="none"/>
<circle cx="598.75" cy="117.7" r="2.0" stroke="#17805f" stroke-width="0.9" fill="none"/>
<circle cx="613.98" cy="113.0" r="2.0" stroke="#17805f" stroke-width="0.9" fill="none"/>
<circle cx="629.21" cy="107.5" r="2.0" stroke="#17805f" stroke-width="0.9" fill="none"/>
<circle cx="644.44" cy="100.0" r="2.0" stroke="#17805f" stroke-width="0.9" fill="none"/>
<circle cx="659.6700000000001" cy="92.9" r="2.0" stroke="#17805f" stroke-width="0.9" fill="none"/>
<polyline points="522.60,142.40 537.83,138.50 553.06,134.90 568.29,129.60 583.52,124.60 598.75,119.10 613.98,114.40 629.21,108.90 644.44,101.40 659.67,94.30" fill="none" stroke="#17805f" stroke-width="0.9" stroke-dasharray="3.5,2"/>
<path d="M520.6,142.4H524.6M522.6,140.4V144.4M521.2,141.0L524.0,143.8M521.2,143.8L524.0,141.0" stroke="#17805f" stroke-width="0.9" fill="none"/>
<path d="M535.83,138.5H539.83M537.83,136.5V140.5M536.4300000000001,137.1L539.23,139.9M536.4300000000001,139.9L539.23,137.1" stroke="#17805f" stroke-width="0.9" fill="none"/>
<path d="M551.0600000000001,134.9H555.0600000000001M553.0600000000001,132.9V136.9M551.6600000000001,133.5L554.46,136.3M551.6600000000001,136.3L554.46,133.5" stroke="#17805f" stroke-width="0.9" fill="none"/>
<path d="M566.29,129.6H570.29M568.29,127.6V131.6M566.89,128.2L569.6899999999999,131.0M566.89,131.0L569.6899999999999,128.2" stroke="#17805f" stroke-width="0.9" fill="none"/>
<path d="M581.52,124.6H585.52M583.52,122.6V126.6M582.12,123.19999999999999L584.92,126.0M582.12,126.0L584.92,123.19999999999999" stroke="#17805f" stroke-width="0.9" fill="none"/>
<path d="M596.75,119.1H600.75M598.75,117.1V121.1M597.35,117.69999999999999L600.15,120.5M597.35,120.5L600.15,117.69999999999999" stroke="#17805f" stroke-width="0.9" fill="none"/>
<path d="M611.98,114.39999999999999H615.98M613.98,112.39999999999999V116.39999999999999M612.58,112.99999999999999L615.38,115.8M612.58,115.8L615.38,112.99999999999999" stroke="#17805f" stroke-width="0.9" fill="none"/>
<path d="M627.21,108.89999999999999H631.21M629.21,106.89999999999999V110.89999999999999M627.8100000000001,107.49999999999999L630.61,110.3M627.8100000000001,110.3L630.61,107.49999999999999" stroke="#17805f" stroke-width="0.9" fill="none"/>
<path d="M642.44,101.39999999999999H646.44M644.44,99.39999999999999V103.39999999999999M643.0400000000001,99.99999999999999L645.84,102.8M643.0400000000001,102.8L645.84,99.99999999999999" stroke="#17805f" stroke-width="0.9" fill="none"/>
<path d="M657.6700000000001,94.3H661.6700000000001M659.6700000000001,92.3V96.3M658.2700000000001,92.89999999999999L661.07,95.7M658.2700000000001,95.7L661.07,92.89999999999999" stroke="#17805f" stroke-width="0.9" fill="none"/>
<polyline points="522.60,159.50 537.83,159.50 553.06,159.50 568.29,159.50 583.52,159.50 598.75,159.50 613.98,159.50 629.21,159.50 644.44,159.50 659.67,159.50" fill="none" stroke="#e06a10" stroke-width="0.9" stroke-dasharray="3.5,2"/>
<polygon points="522.6,157.2 524.6,161.0 520.6,161.0" stroke="#e06a10" stroke-width="0.9" fill="none"/>
<polygon points="537.83,157.2 539.83,161.0 535.83,161.0" stroke="#e06a10" stroke-width="0.9" fill="none"/>
<polygon points="553.0600000000001,157.2 555.0600000000001,161.0 551.0600000000001,161.0" stroke="#e06a10" stroke-width="0.9" fill="none"/>
<polygon points="568.29,157.2 570.29,161.0 566.29,161.0" stroke="#e06a10" stroke-width="0.9" fill="none"/>
<polygon points="583.52,157.2 585.52,161.0 581.52,161.0" stroke="#e06a10" stroke-width="0.9" fill="none"/>
<polygon points="598.75,157.2 600.75,161.0 596.75,161.0" stroke="#e06a10" stroke-width="0.9" fill="none"/>
<polygon points="613.98,157.2 615.98,161.0 611.98,161.0" stroke="#e06a10" stroke-width="0.9" fill="none"/>
<polygon points="629.21,157.2 631.21,161.0 627.21,161.0" stroke="#e06a10" stroke-width="0.9" fill="none"/>
<polygon points="644.44,157.2 646.44,161.0 642.44,161.0" stroke="#e06a10" stroke-width="0.9" fill="none"/>
<polygon points="659.6700000000001,157.2 661.6700000000001,161.0 657.6700000000001,161.0" stroke="#e06a10" stroke-width="0.9" fill="none"/>
<polyline points="522.60,159.50 537.83,159.50 553.06,159.50 568.29,159.50 583.52,159.50 598.75,159.50 613.98,159.50 629.21,159.50 644.44,159.50 659.67,159.50" fill="none" stroke="#e06a10" stroke-width="0.9" stroke-dasharray="3.5,2"/>
<rect x="520.8000000000001" y="157.7" width="3.6" height="3.6" stroke="#e06a10" stroke-width="0.9" fill="none"/>
<rect x="536.0300000000001" y="157.7" width="3.6" height="3.6" stroke="#e06a10" stroke-width="0.9" fill="none"/>
<rect x="551.2600000000001" y="157.7" width="3.6" height="3.6" stroke="#e06a10" stroke-width="0.9" fill="none"/>
<rect x="566.49" y="157.7" width="3.6" height="3.6" stroke="#e06a10" stroke-width="0.9" fill="none"/>
<rect x="581.72" y="157.7" width="3.6" height="3.6" stroke="#e06a10" stroke-width="0.9" fill="none"/>
<rect x="596.95" y="157.7" width="3.6" height="3.6" stroke="#e06a10" stroke-width="0.9" fill="none"/>
<rect x="612.1800000000001" y="157.7" width="3.6" height="3.6" stroke="#e06a10" stroke-width="0.9" fill="none"/>
<rect x="627.4100000000001" y="157.7" width="3.6" height="3.6" stroke="#e06a10" stroke-width="0.9" fill="none"/>
<rect x="642.6400000000001" y="157.7" width="3.6" height="3.6" stroke="#e06a10" stroke-width="0.9" fill="none"/>
<rect x="657.8700000000001" y="157.7" width="3.6" height="3.6" stroke="#e06a10" stroke-width="0.9" fill="none"/>
<polyline points="522.60,159.50 537.83,159.50 553.06,159.50 568.29,159.50 583.52,159.50 598.75,159.50 613.98,159.50 629.21,159.50 644.44,159.50 659.67,159.50" fill="none" stroke="#4e3f8e" stroke-width="0.9" stroke-dasharray="3.5,2"/>
<path d="M521.0,157.9L524.2,161.1M521.0,161.1L524.2,157.9" stroke="#4e3f8e" stroke-width="1.1" fill="none"/>
<path d="M536.23,157.9L539.4300000000001,161.1M536.23,161.1L539.4300000000001,157.9" stroke="#4e3f8e" stroke-width="1.1" fill="none"/>
<path d="M551.46,157.9L554.6600000000001,161.1M551.46,161.1L554.6600000000001,157.9" stroke="#4e3f8e" stroke-width="1.1" fill="none"/>
<path d="M566.6899999999999,157.9L569.89,161.1M566.6899999999999,161.1L569.89,157.9" stroke="#4e3f8e" stroke-width="1.1" fill="none"/>
<path d="M581.92,157.9L585.12,161.1M581.92,161.1L585.12,157.9" stroke="#4e3f8e" stroke-width="1.1" fill="none"/>
<path d="M597.15,157.9L600.35,161.1M597.15,161.1L600.35,157.9" stroke="#4e3f8e" stroke-width="1.1" fill="none"/>
<path d="M612.38,157.9L615.58,161.1M612.38,161.1L615.58,157.9" stroke="#4e3f8e" stroke-width="1.1" fill="none"/>
<path d="M627.61,157.9L630.8100000000001,161.1M627.61,161.1L630.8100000000001,157.9" stroke="#4e3f8e" stroke-width="1.1" fill="none"/>
<path d="M642.84,157.9L646.0400000000001,161.1M642.84,161.1L646.0400000000001,157.9" stroke="#4e3f8e" stroke-width="1.1" fill="none"/>
<path d="M658.07,157.9L661.2700000000001,161.1M658.07,161.1L661.2700000000001,157.9" stroke="#4e3f8e" stroke-width="1.1" fill="none"/>
<polyline points="522.60,159.50 537.83,159.50 553.06,159.50 568.29,159.50 583.52,159.50 598.75,159.50 613.98,159.50 629.21,159.50 644.44,159.50 659.67,159.50" fill="none" stroke="#4e3f8e" stroke-width="0.9" stroke-dasharray="3.5,2"/>
<polygon points="522.6,157.1 524.6,159.5 522.6,161.9 520.6,159.5" stroke="#4e3f8e" stroke-width="0.9" fill="none"/>
<polygon points="537.83,157.1 539.83,159.5 537.83,161.9 535.83,159.5" stroke="#4e3f8e" stroke-width="0.9" fill="none"/>
<polygon points="553.0600000000001,157.1 555.0600000000001,159.5 553.0600000000001,161.9 551.0600000000001,159.5" stroke="#4e3f8e" stroke-width="0.9" fill="none"/>
<polygon points="568.29,157.1 570.29,159.5 568.29,161.9 566.29,159.5" stroke="#4e3f8e" stroke-width="0.9" fill="none"/>
<polygon points="583.52,157.1 585.52,159.5 583.52,161.9 581.52,159.5" stroke="#4e3f8e" stroke-width="0.9" fill="none"/>
<polygon points="598.75,157.1 600.75,159.5 598.75,161.9 596.75,159.5" stroke="#4e3f8e" stroke-width="0.9" fill="none"/>
<polygon points="613.98,157.1 615.98,159.5 613.98,161.9 611.98,159.5" stroke="#4e3f8e" stroke-width="0.9" fill="none"/>
<polygon points="629.21,157.1 631.21,159.5 629.21,161.9 627.21,159.5" stroke="#4e3f8e" stroke-width="0.9" fill="none"/>
<polygon points="644.44,157.1 646.44,159.5 644.44,161.9 642.44,159.5" stroke="#4e3f8e" stroke-width="0.9" fill="none"/>
<polygon points="659.6700000000001,157.1 661.6700000000001,159.5 659.6700000000001,161.9 657.6700000000001,159.5" stroke="#4e3f8e" stroke-width="0.9" fill="none"/>
<polygon points="371.20,264.90 385.87,262.20 400.53,259.60 415.20,254.00 429.87,248.50 444.53,245.50 459.20,224.40 473.87,232.50 488.54,224.40 503.20,218.40 503.20,323.50 488.54,323.50 473.87,323.50 459.20,323.50 444.53,323.50 429.87,323.50 415.20,323.50 400.53,323.50 385.87,323.50 371.20,323.50" fill="#cde4dc" fill-opacity="1"/>
<polygon points="371.20,313.50 385.87,311.00 400.53,308.50 415.20,306.00 429.87,304.50 444.53,303.00 459.20,299.50 473.87,298.50 488.54,297.50 503.20,296.50 503.20,323.50 488.54,323.50 473.87,323.50 459.20,323.50 444.53,323.50 429.87,323.50 415.20,323.50 400.53,323.50 385.87,323.50 371.20,323.50" fill="#bfb29f" fill-opacity="1"/>
<polyline points="371.20,294.20 385.87,292.00 400.53,290.60 415.20,287.80 429.87,285.40 444.53,284.20 459.20,273.00 473.87,277.90 488.54,273.70 503.20,270.10" fill="none" stroke="#17805f" stroke-width="0.9" stroke-dasharray="3.5,2"/>
<path d="M369.2,294.2H373.2M371.2,292.2V296.2M369.8,292.8L372.59999999999997,295.59999999999997M369.8,295.59999999999997L372.59999999999997,292.8" stroke="#17805f" stroke-width="0.9" fill="none"/>
<path d="M383.86699999999996,292H387.86699999999996M385.86699999999996,290.0V294.0M384.467,290.6L387.26699999999994,293.4M384.467,293.4L387.26699999999994,290.6" stroke="#17805f" stroke-width="0.9" fill="none"/>
<path d="M398.534,290.6H402.534M400.534,288.6V292.6M399.134,289.20000000000005L401.93399999999997,292.0M399.134,292.0L401.93399999999997,289.20000000000005" stroke="#17805f" stroke-width="0.9" fill="none"/>
<path d="M413.20099999999996,287.8H417.20099999999996M415.20099999999996,285.8V289.8M413.801,286.40000000000003L416.60099999999994,289.2M413.801,289.2L416.60099999999994,286.40000000000003" stroke="#17805f" stroke-width="0.9" fill="none"/>
<path d="M427.868,285.4H431.868M429.868,283.4V287.4M428.468,284.0L431.268,286.79999999999995M428.468,286.79999999999995L431.268,284.0" stroke="#17805f" stroke-width="0.9" fill="none"/>
<path d="M442.53499999999997,284.2H446.53499999999997M444.53499999999997,282.2V286.2M443.135,282.8L445.93499999999995,285.59999999999997M443.135,285.59999999999997L445.93499999999995,282.8" stroke="#17805f" stroke-width="0.9" fill="none"/>
<path d="M457.202,273H461.202M459.202,271.0V275.0M457.802,271.6L460.602,274.4M457.802,274.4L460.602,271.6" stroke="#17805f" stroke-width="0.9" fill="none"/>
<path d="M471.86899999999997,277.9H475.86899999999997M473.86899999999997,275.9V279.9M472.469,276.5L475.26899999999995,279.29999999999995M472.469,279.29999999999995L475.26899999999995,276.5" stroke="#17805f" stroke-width="0.9" fill="none"/>
<path d="M486.536,273.7H490.536M488.536,271.7V275.7M487.136,272.3L489.936,275.09999999999997M487.136,275.09999999999997L489.936,272.3" stroke="#17805f" stroke-width="0.9" fill="none"/>
<path d="M501.203,270.1H505.203M503.203,268.1V272.1M501.803,268.70000000000005L504.60299999999995,271.5M501.803,271.5L504.60299999999995,268.70000000000005" stroke="#17805f" stroke-width="0.9" fill="none"/>
<polyline points="371.20,318.50 385.87,317.90 400.53,317.30 415.20,316.70 429.87,316.00 444.53,314.20 459.20,311.70 473.87,312.40 488.54,310.60 503.20,309.60" fill="none" stroke="#4e3f8e" stroke-width="0.9" stroke-dasharray="3.5,2"/>
<path d="M369.59999999999997,316.9L372.8,320.1M369.59999999999997,320.1L372.8,316.9" stroke="#4e3f8e" stroke-width="1.1" fill="none"/>
<path d="M384.26699999999994,316.29999999999995L387.467,319.5M384.26699999999994,319.5L387.467,316.29999999999995" stroke="#4e3f8e" stroke-width="1.1" fill="none"/>
<path d="M398.93399999999997,315.7L402.134,318.90000000000003M398.93399999999997,318.90000000000003L402.134,315.7" stroke="#4e3f8e" stroke-width="1.1" fill="none"/>
<path d="M413.60099999999994,315.09999999999997L416.801,318.3M413.60099999999994,318.3L416.801,315.09999999999997" stroke="#4e3f8e" stroke-width="1.1" fill="none"/>
<path d="M428.268,314.4L431.468,317.6M428.268,317.6L431.468,314.4" stroke="#4e3f8e" stroke-width="1.1" fill="none"/>
<path d="M442.93499999999995,312.59999999999997L446.135,315.8M442.93499999999995,315.8L446.135,312.59999999999997" stroke="#4e3f8e" stroke-width="1.1" fill="none"/>
<path d="M457.602,310.09999999999997L460.802,313.3M457.602,313.3L460.802,310.09999999999997" stroke="#4e3f8e" stroke-width="1.1" fill="none"/>
<path d="M472.26899999999995,310.79999999999995L475.469,314.0M472.26899999999995,314.0L475.469,310.79999999999995" stroke="#4e3f8e" stroke-width="1.1" fill="none"/>
<path d="M486.936,309.0L490.136,312.20000000000005M486.936,312.20000000000005L490.136,309.0" stroke="#4e3f8e" stroke-width="1.1" fill="none"/>
<path d="M501.60299999999995,308.0L504.803,311.20000000000005M501.60299999999995,311.20000000000005L504.803,308.0" stroke="#4e3f8e" stroke-width="1.1" fill="none"/>
<polyline points="371.20,318.50 385.87,317.90 400.53,317.30 415.20,316.70 429.87,316.00 444.53,314.20 459.20,311.70 473.87,312.40 488.54,310.60 503.20,309.60" fill="none" stroke="#e06a10" stroke-width="0.9" stroke-dasharray="3.5,2"/>
<polygon points="371.2,316.2 373.2,320.0 369.2,320.0" stroke="#e06a10" stroke-width="0.9" fill="none"/>
<polygon points="385.86699999999996,315.59999999999997 387.86699999999996,319.4 383.86699999999996,319.4" stroke="#e06a10" stroke-width="0.9" fill="none"/>
<polygon points="400.534,315.0 402.534,318.8 398.534,318.8" stroke="#e06a10" stroke-width="0.9" fill="none"/>
<polygon points="415.20099999999996,314.4 417.20099999999996,318.2 413.20099999999996,318.2" stroke="#e06a10" stroke-width="0.9" fill="none"/>
<polygon points="429.868,313.7 431.868,317.5 427.868,317.5" stroke="#e06a10" stroke-width="0.9" fill="none"/>
<polygon points="444.53499999999997,311.9 446.53499999999997,315.7 442.53499999999997,315.7" stroke="#e06a10" stroke-width="0.9" fill="none"/>
<polygon points="459.202,309.4 461.202,313.2 457.202,313.2" stroke="#e06a10" stroke-width="0.9" fill="none"/>
<polygon points="473.86899999999997,310.09999999999997 475.86899999999997,313.9 471.86899999999997,313.9" stroke="#e06a10" stroke-width="0.9" fill="none"/>
<polygon points="488.536,308.3 490.536,312.1 486.536,312.1" stroke="#e06a10" stroke-width="0.9" fill="none"/>
<polygon points="503.203,307.3 505.203,311.1 501.203,311.1" stroke="#e06a10" stroke-width="0.9" fill="none"/>
<polygon points="522.60,263.00 537.83,260.60 553.06,263.00 568.29,263.30 583.52,263.50 598.75,263.70 613.98,264.00 629.21,264.80 644.44,266.50 659.67,267.70 659.67,322.50 644.44,322.50 629.21,322.50 613.98,322.50 598.75,322.50 583.52,322.50 568.29,322.50 553.06,322.50 537.83,322.50 522.60,322.50" fill="#cde4dc" fill-opacity="1"/>
<polygon points="522.60,310.90 537.83,311.50 553.06,312.00 568.29,312.50 583.52,313.00 598.75,313.30 613.98,313.90 629.21,314.20 644.44,314.50 659.67,314.90 659.67,322.50 644.44,322.50 629.21,322.50 613.98,322.50 598.75,322.50 583.52,322.50 568.29,322.50 553.06,322.50 537.83,322.50 522.60,322.50" fill="#bfb29f" fill-opacity="1"/>
<polyline points="522.60,292.90 537.83,291.50 553.06,293.40 568.29,293.40 583.52,293.60 598.75,293.60 613.98,294.00 629.21,294.50 644.44,294.50 659.67,295.20" fill="none" stroke="#17805f" stroke-width="0.9" stroke-dasharray="3.5,2"/>
<path d="M520.6,292.9H524.6M522.6,290.9V294.9M521.2,291.5L524.0,294.29999999999995M521.2,294.29999999999995L524.0,291.5" stroke="#17805f" stroke-width="0.9" fill="none"/>
<path d="M535.83,291.5H539.83M537.83,289.5V293.5M536.4300000000001,290.1L539.23,292.9M536.4300000000001,292.9L539.23,290.1" stroke="#17805f" stroke-width="0.9" fill="none"/>
<path d="M551.0600000000001,293.4H555.0600000000001M553.0600000000001,291.4V295.4M551.6600000000001,292.0L554.46,294.79999999999995M551.6600000000001,294.79999999999995L554.46,292.0" stroke="#17805f" stroke-width="0.9" fill="none"/>
<path d="M566.29,293.4H570.29M568.29,291.4V295.4M566.89,292.0L569.6899999999999,294.79999999999995M566.89,294.79999999999995L569.6899999999999,292.0" stroke="#17805f" stroke-width="0.9" fill="none"/>
<path d="M581.52,293.6H585.52M583.52,291.6V295.6M582.12,292.20000000000005L584.92,295.0M582.12,295.0L584.92,292.20000000000005" stroke="#17805f" stroke-width="0.9" fill="none"/>
<path d="M596.75,293.6H600.75M598.75,291.6V295.6M597.35,292.20000000000005L600.15,295.0M597.35,295.0L600.15,292.20000000000005" stroke="#17805f" stroke-width="0.9" fill="none"/>
<path d="M611.98,294H615.98M613.98,292.0V296.0M612.58,292.6L615.38,295.4M612.58,295.4L615.38,292.6" stroke="#17805f" stroke-width="0.9" fill="none"/>
<path d="M627.21,294.5H631.21M629.21,292.5V296.5M627.8100000000001,293.1L630.61,295.9M627.8100000000001,295.9L630.61,293.1" stroke="#17805f" stroke-width="0.9" fill="none"/>
<path d="M642.44,294.5H646.44M644.44,292.5V296.5M643.0400000000001,293.1L645.84,295.9M643.0400000000001,295.9L645.84,293.1" stroke="#17805f" stroke-width="0.9" fill="none"/>
<path d="M657.6700000000001,295.2H661.6700000000001M659.6700000000001,293.2V297.2M658.2700000000001,293.8L661.07,296.59999999999997M658.2700000000001,296.59999999999997L661.07,293.8" stroke="#17805f" stroke-width="0.9" fill="none"/>
<polyline points="522.60,316.90 537.83,317.30 553.06,318.00 568.29,318.30 583.52,318.30 598.75,318.40 613.98,318.40 629.21,318.40 644.44,318.40 659.67,318.40" fill="none" stroke="#4e3f8e" stroke-width="0.9" stroke-dasharray="3.5,2"/>
<path d="M521.0,315.29999999999995L524.2,318.5M521.0,318.5L524.2,315.29999999999995" stroke="#4e3f8e" stroke-width="1.1" fill="none"/>
<path d="M536.23,315.7L539.4300000000001,318.90000000000003M536.23,318.90000000000003L539.4300000000001,315.7" stroke="#4e3f8e" stroke-width="1.1" fill="none"/>
<path d="M551.46,316.4L554.6600000000001,319.6M551.46,319.6L554.6600000000001,316.4" stroke="#4e3f8e" stroke-width="1.1" fill="none"/>
<path d="M566.6899999999999,316.7L569.89,319.90000000000003M566.6899999999999,319.90000000000003L569.89,316.7" stroke="#4e3f8e" stroke-width="1.1" fill="none"/>
<path d="M581.92,316.7L585.12,319.90000000000003M581.92,319.90000000000003L585.12,316.7" stroke="#4e3f8e" stroke-width="1.1" fill="none"/>
<path d="M597.15,316.79999999999995L600.35,320.0M597.15,320.0L600.35,316.79999999999995" stroke="#4e3f8e" stroke-width="1.1" fill="none"/>
<path d="M612.38,316.79999999999995L615.58,320.0M612.38,320.0L615.58,316.79999999999995" stroke="#4e3f8e" stroke-width="1.1" fill="none"/>
<path d="M627.61,316.79999999999995L630.8100000000001,320.0M627.61,320.0L630.8100000000001,316.79999999999995" stroke="#4e3f8e" stroke-width="1.1" fill="none"/>
<path d="M642.84,316.79999999999995L646.0400000000001,320.0M642.84,320.0L646.0400000000001,316.79999999999995" stroke="#4e3f8e" stroke-width="1.1" fill="none"/>
<path d="M658.07,316.79999999999995L661.2700000000001,320.0M658.07,320.0L661.2700000000001,316.79999999999995" stroke="#4e3f8e" stroke-width="1.1" fill="none"/>
<polyline points="522.60,316.90 537.83,317.30 553.06,318.00 568.29,318.30 583.52,318.30 598.75,318.40 613.98,318.40 629.21,318.40 644.44,318.40 659.67,318.40" fill="none" stroke="#e06a10" stroke-width="0.9" stroke-dasharray="3.5,2"/>
<polygon points="522.6,314.59999999999997 524.6,318.4 520.6,318.4" stroke="#e06a10" stroke-width="0.9" fill="none"/>
<polygon points="537.83,315.0 539.83,318.8 535.83,318.8" stroke="#e06a10" stroke-width="0.9" fill="none"/>
<polygon points="553.0600000000001,315.7 555.0600000000001,319.5 551.0600000000001,319.5" stroke="#e06a10" stroke-width="0.9" fill="none"/>
<polygon points="568.29,316.0 570.29,319.8 566.29,319.8" stroke="#e06a10" stroke-width="0.9" fill="none"/>
<polygon points="583.52,316.0 585.52,319.8 581.52,319.8" stroke="#e06a10" stroke-width="0.9" fill="none"/>
<polygon points="598.75,316.09999999999997 600.75,319.9 596.75,319.9" stroke="#e06a10" stroke-width="0.9" fill="none"/>
<polygon points="613.98,316.09999999999997 615.98,319.9 611.98,319.9" stroke="#e06a10" stroke-width="0.9" fill="none"/>
<polygon points="629.21,316.09999999999997 631.21,319.9 627.21,319.9" stroke="#e06a10" stroke-width="0.9" fill="none"/>
<polygon points="644.44,316.09999999999997 646.44,319.9 642.44,319.9" stroke="#e06a10" stroke-width="0.9" fill="none"/>
<polygon points="659.6700000000001,316.09999999999997 661.6700000000001,319.9 657.6700000000001,319.9" stroke="#e06a10" stroke-width="0.9" fill="none"/>
<rect x="463" y="23" width="166" height="23.3" fill="#fff" stroke="#bdbdbd" stroke-width="0.8"/>
<line x1="469.00" y1="28.40" x2="472.00" y2="28.40" stroke="#17805f" stroke-width="0.9" />
<line x1="480.00" y1="28.40" x2="483.00" y2="28.40" stroke="#17805f" stroke-width="0.9" />
<path d="M473.5,28.4H478.5M476.0,25.9V30.9M474.25,26.65L477.75,30.15M474.25,30.15L477.75,26.65" stroke="#17805f" stroke-width="0.9" fill="none"/>
<text x="488.5" y="31.099999999999998" font-size="7.5" fill="#1b9170">FE, u<tspan font-size="4.50" dy="1.6">z</tspan></text>
<line x1="469.00" y1="39.10" x2="483.00" y2="39.10" stroke="#17805f" stroke-width="0.9" />
<circle cx="476.0" cy="39.1" r="2.1" stroke="#17805f" stroke-width="0.9" fill="none"/>
<text x="488.5" y="41.800000000000004" font-size="7.5" fill="#1b9170">TPT, u<tspan font-size="4.50" dy="1.6">z</tspan></text>
<line x1="523.30" y1="28.40" x2="526.30" y2="28.40" stroke="#e06a10" stroke-width="0.9" />
<line x1="534.30" y1="28.40" x2="537.30" y2="28.40" stroke="#e06a10" stroke-width="0.9" />
<polygon points="530.3,25.985 532.4,29.974999999999998 528.1999999999999,29.974999999999998" stroke="#e06a10" stroke-width="0.9" fill="none"/>
<text x="542" y="31.099999999999998" font-size="7.5" fill="#e06a10">FE, u<tspan font-size="4.50" dy="1.6">x</tspan></text>
<line x1="523.30" y1="39.10" x2="537.30" y2="39.10" stroke="#e06a10" stroke-width="0.9" />
<rect x="528.41" y="37.21" width="3.7800000000000002" height="3.7800000000000002" stroke="#e06a10" stroke-width="0.9" fill="none"/>
<text x="542" y="41.800000000000004" font-size="7.5" fill="#e06a10">TPT, u<tspan font-size="4.50" dy="1.6">x</tspan></text>
<line x1="578.00" y1="28.40" x2="581.00" y2="28.40" stroke="#4e3f8e" stroke-width="0.9" />
<line x1="591.00" y1="28.40" x2="594.00" y2="28.40" stroke="#4e3f8e" stroke-width="0.9" />
<path d="M584.32,26.72L587.68,30.08M584.32,30.08L587.68,26.72" stroke="#4e3f8e" stroke-width="1.1" fill="none"/>
<text x="599.5" y="31.099999999999998" font-size="7.5" fill="#6a64a8">FE, u<tspan font-size="4.50" dy="1.6">y</tspan></text>
<line x1="578.00" y1="39.10" x2="594.00" y2="39.10" stroke="#4e3f8e" stroke-width="0.9" />
<polygon points="586.0,36.58 588.1,39.1 586.0,41.620000000000005 583.9,39.1" stroke="#4e3f8e" stroke-width="0.9" fill="none"/>
<text x="599.5" y="41.800000000000004" font-size="7.5" fill="#6a64a8">TPT, u<tspan font-size="4.50" dy="1.6">y</tspan></text>
<rect x="611.5" y="212.4" width="46.9" height="34.1" fill="#fff" stroke="#bdbdbd" stroke-width="0.8"/>
<line x1="617.60" y1="218.60" x2="620.60" y2="218.60" stroke="#17805f" stroke-width="0.9" />
<line x1="626.60" y1="218.60" x2="629.60" y2="218.60" stroke="#17805f" stroke-width="0.9" />
<path d="M621.1,218.6H626.1M623.6,216.1V221.1M621.85,216.85L625.35,220.35M621.85,220.35L625.35,216.85" stroke="#17805f" stroke-width="0.9" fill="none"/>
<text x="633.6" y="221.29999999999998" font-size="6.9" fill="#1b9170">FE, T<tspan font-size="4.14" dy="1.6">z</tspan></text>
<line x1="617.60" y1="229.80" x2="620.60" y2="229.80" stroke="#e06a10" stroke-width="0.9" />
<line x1="626.60" y1="229.80" x2="629.60" y2="229.80" stroke="#e06a10" stroke-width="0.9" />
<polygon points="623.6,227.38500000000002 625.7,231.375 621.5,231.375" stroke="#e06a10" stroke-width="0.9" fill="none"/>
<text x="633.6" y="232.5" font-size="6.9" fill="#e06a10">FE, T<tspan font-size="4.14" dy="1.6">x</tspan></text>
<line x1="617.60" y1="240.80" x2="620.60" y2="240.80" stroke="#4e3f8e" stroke-width="0.9" />
<line x1="626.60" y1="240.80" x2="629.60" y2="240.80" stroke="#4e3f8e" stroke-width="0.9" />
<path d="M621.9200000000001,239.12L625.28,242.48000000000002M621.9200000000001,242.48000000000002L625.28,239.12" stroke="#4e3f8e" stroke-width="1.1" fill="none"/>
<text x="633.6" y="243.5" font-size="6.9" fill="#6a64a8">FE, T<tspan font-size="4.14" dy="1.6">y</tspan></text>
<path d="M363.5,51 V167.1 H510" fill="none" stroke="#222" stroke-width="1.3"/>
<line x1="363.50" y1="163.30" x2="366.00" y2="163.30" stroke="#222" stroke-width="1" />
<line x1="363.50" y1="144.70" x2="366.00" y2="144.70" stroke="#222" stroke-width="1" />
<line x1="363.50" y1="126.10" x2="366.00" y2="126.10" stroke="#222" stroke-width="1" />
<line x1="363.50" y1="107.50" x2="366.00" y2="107.50" stroke="#222" stroke-width="1" />
<line x1="363.50" y1="88.90" x2="366.00" y2="88.90" stroke="#222" stroke-width="1" />
<line x1="363.50" y1="70.30" x2="366.00" y2="70.30" stroke="#222" stroke-width="1" />
<line x1="363.50" y1="51.70" x2="366.00" y2="51.70" stroke="#222" stroke-width="1" />
<line x1="374.27" y1="167.10" x2="374.27" y2="164.60" stroke="#222" stroke-width="1" />
<line x1="392.60" y1="167.10" x2="392.60" y2="164.60" stroke="#222" stroke-width="1" />
<line x1="410.94" y1="167.10" x2="410.94" y2="164.60" stroke="#222" stroke-width="1" />
<line x1="429.27" y1="167.10" x2="429.27" y2="164.60" stroke="#222" stroke-width="1" />
<line x1="447.61" y1="167.10" x2="447.61" y2="164.60" stroke="#222" stroke-width="1" />
<line x1="465.94" y1="167.10" x2="465.94" y2="164.60" stroke="#222" stroke-width="1" />
<line x1="484.28" y1="167.10" x2="484.28" y2="164.60" stroke="#222" stroke-width="1" />
<line x1="502.61" y1="167.10" x2="502.61" y2="164.60" stroke="#222" stroke-width="1" />
<text x="357.2" y="166.9" font-size="10" font-weight="normal" fill="#000" text-anchor="end" >0</text>
<text x="360.0" y="129.70000000000002" font-size="10" font-weight="normal" fill="#000" text-anchor="end" >0.001</text>
<text x="360.0" y="92.5" font-size="10" font-weight="normal" fill="#000" text-anchor="end" >0.002</text>
<text x="360.0" y="55.300000000000004" font-size="10" font-weight="normal" fill="#000" text-anchor="end" >0.003</text>
<text x="392.6" y="178.4" font-size="10" font-weight="normal" fill="#000" text-anchor="middle" >100</text>
<text x="429.27000000000004" y="178.4" font-size="10" font-weight="normal" fill="#000" text-anchor="middle" >200</text>
<text x="465.94000000000005" y="178.4" font-size="10" font-weight="normal" fill="#000" text-anchor="middle" >300</text>
<text x="502.61" y="178.4" font-size="10" font-weight="normal" fill="#000" text-anchor="middle" >400</text>
<path d="M519.6,51 V167.1 H665.6" fill="none" stroke="#222" stroke-width="1.3"/>
<line x1="519.60" y1="163.30" x2="522.10" y2="163.30" stroke="#222" stroke-width="1" />
<line x1="519.60" y1="144.70" x2="522.10" y2="144.70" stroke="#222" stroke-width="1" />
<line x1="519.60" y1="126.10" x2="522.10" y2="126.10" stroke="#222" stroke-width="1" />
<line x1="519.60" y1="107.50" x2="522.10" y2="107.50" stroke="#222" stroke-width="1" />
<line x1="519.60" y1="88.90" x2="522.10" y2="88.90" stroke="#222" stroke-width="1" />
<line x1="519.60" y1="70.30" x2="522.10" y2="70.30" stroke="#222" stroke-width="1" />
<line x1="519.60" y1="51.70" x2="522.10" y2="51.70" stroke="#222" stroke-width="1" />
<line x1="527.10" y1="167.10" x2="527.10" y2="164.60" stroke="#222" stroke-width="1" />
<line x1="546.97" y1="167.10" x2="546.97" y2="164.60" stroke="#222" stroke-width="1" />
<line x1="566.84" y1="167.10" x2="566.84" y2="164.60" stroke="#222" stroke-width="1" />
<line x1="586.71" y1="167.10" x2="586.71" y2="164.60" stroke="#222" stroke-width="1" />
<line x1="606.58" y1="167.10" x2="606.58" y2="164.60" stroke="#222" stroke-width="1" />
<line x1="626.45" y1="167.10" x2="626.45" y2="164.60" stroke="#222" stroke-width="1" />
<line x1="646.32" y1="167.10" x2="646.32" y2="164.60" stroke="#222" stroke-width="1" />
<text x="527.1" y="178.4" font-size="10" font-weight="normal" fill="#000" text-anchor="middle" >10</text>
<text x="566.84" y="178.4" font-size="10" font-weight="normal" fill="#000" text-anchor="middle" >30</text>
<text x="606.58" y="178.4" font-size="10" font-weight="normal" fill="#000" text-anchor="middle" >50</text>
<text x="646.32" y="178.4" font-size="10" font-weight="normal" fill="#000" text-anchor="middle" >70</text>
<path d="M364,210 V327.5 H511.2" fill="none" stroke="#222" stroke-width="1.3"/>
<line x1="364.00" y1="323.50" x2="366.50" y2="323.50" stroke="#222" stroke-width="1" />
<line x1="364.00" y1="306.46" x2="366.50" y2="306.46" stroke="#222" stroke-width="1" />
<line x1="364.00" y1="289.42" x2="366.50" y2="289.42" stroke="#222" stroke-width="1" />
<line x1="364.00" y1="272.38" x2="366.50" y2="272.38" stroke="#222" stroke-width="1" />
<line x1="364.00" y1="255.34" x2="366.50" y2="255.34" stroke="#222" stroke-width="1" />
<line x1="364.00" y1="238.30" x2="366.50" y2="238.30" stroke="#222" stroke-width="1" />
<line x1="364.00" y1="221.26" x2="366.50" y2="221.26" stroke="#222" stroke-width="1" />
<line x1="374.87" y1="327.50" x2="374.87" y2="325.00" stroke="#222" stroke-width="1" />
<line x1="393.20" y1="327.50" x2="393.20" y2="325.00" stroke="#222" stroke-width="1" />
<line x1="411.53" y1="327.50" x2="411.53" y2="325.00" stroke="#222" stroke-width="1" />
<line x1="429.87" y1="327.50" x2="429.87" y2="325.00" stroke="#222" stroke-width="1" />
<line x1="448.20" y1="327.50" x2="448.20" y2="325.00" stroke="#222" stroke-width="1" />
<line x1="466.54" y1="327.50" x2="466.54" y2="325.00" stroke="#222" stroke-width="1" />
<line x1="484.88" y1="327.50" x2="484.88" y2="325.00" stroke="#222" stroke-width="1" />
<line x1="503.21" y1="327.50" x2="503.21" y2="325.00" stroke="#222" stroke-width="1" />
<text x="360.5" y="327.1" font-size="10" font-weight="normal" fill="#000" text-anchor="end" >0</text>
<text x="360.5" y="293.02000000000004" font-size="10" font-weight="normal" fill="#000" text-anchor="end" >0.4</text>
<text x="360.5" y="258.94" font-size="10" font-weight="normal" fill="#000" text-anchor="end" >0.8</text>
<text x="360.5" y="224.85999999999999" font-size="10" font-weight="normal" fill="#000" text-anchor="end" >1.2</text>
<text x="393.2" y="338.8" font-size="10" font-weight="normal" fill="#000" text-anchor="middle" >100</text>
<text x="429.87" y="338.8" font-size="10" font-weight="normal" fill="#000" text-anchor="middle" >200</text>
<text x="466.53999999999996" y="338.8" font-size="10" font-weight="normal" fill="#000" text-anchor="middle" >300</text>
<text x="503.21" y="338.8" font-size="10" font-weight="normal" fill="#000" text-anchor="middle" >400</text>
<path d="M520.1,210 V327.5 H665.6" fill="none" stroke="#222" stroke-width="1.3"/>
<line x1="520.10" y1="323.50" x2="522.60" y2="323.50" stroke="#222" stroke-width="1" />
<line x1="520.10" y1="306.46" x2="522.60" y2="306.46" stroke="#222" stroke-width="1" />
<line x1="520.10" y1="289.42" x2="522.60" y2="289.42" stroke="#222" stroke-width="1" />
<line x1="520.10" y1="272.38" x2="522.60" y2="272.38" stroke="#222" stroke-width="1" />
<line x1="520.10" y1="255.34" x2="522.60" y2="255.34" stroke="#222" stroke-width="1" />
<line x1="520.10" y1="238.30" x2="522.60" y2="238.30" stroke="#222" stroke-width="1" />
<line x1="520.10" y1="221.26" x2="522.60" y2="221.26" stroke="#222" stroke-width="1" />
<line x1="527.10" y1="327.50" x2="527.10" y2="325.00" stroke="#222" stroke-width="1" />
<line x1="546.97" y1="327.50" x2="546.97" y2="325.00" stroke="#222" stroke-width="1" />
<line x1="566.84" y1="327.50" x2="566.84" y2="325.00" stroke="#222" stroke-width="1" />
<line x1="586.71" y1="327.50" x2="586.71" y2="325.00" stroke="#222" stroke-width="1" />
<line x1="606.58" y1="327.50" x2="606.58" y2="325.00" stroke="#222" stroke-width="1" />
<line x1="626.45" y1="327.50" x2="626.45" y2="325.00" stroke="#222" stroke-width="1" />
<line x1="646.32" y1="327.50" x2="646.32" y2="325.00" stroke="#222" stroke-width="1" />
<text x="527.1" y="338.8" font-size="10" font-weight="normal" fill="#000" text-anchor="middle" >10</text>
<text x="566.84" y="338.8" font-size="10" font-weight="normal" fill="#000" text-anchor="middle" >30</text>
<text x="606.58" y="338.8" font-size="10" font-weight="normal" fill="#000" text-anchor="middle" >50</text>
<text x="646.32" y="338.8" font-size="10" font-weight="normal" fill="#000" text-anchor="middle" >70</text>
<text x="437.5" y="188.3" font-size="10" font-weight="normal" fill="#000" text-anchor="middle" >Applied Point Force, |<tspan font-weight="bold">F</tspan>| (nN)</text>
<text x="593" y="188.3" font-size="10" font-weight="normal" fill="#000" text-anchor="middle" >Full width half magnitude, W (μm)</text>
<text x="437.5" y="351.7" font-size="10" font-weight="normal" fill="#000" text-anchor="middle" >Applied Point Force, |<tspan font-weight="bold">F</tspan>| (nN)</text>
<text x="593" y="351.5" font-size="10" font-weight="normal" fill="#000" text-anchor="middle" >Full width half magnitude, W (μm)</text>
<text x="367.3" y="67.9" font-size="10" font-weight="normal" fill="#000" text-anchor="start" >W = 10.2 μm</text>
<text x="366.5" y="229.1" font-size="10" font-weight="normal" fill="#000" text-anchor="start" >W = 10.2 μm</text>
<text x="523.5" y="68" font-size="10">u<tspan font-size="6" dy="3">z,max</tspan><tspan dy="-3" dx="1.5"> = 0.3 μm</tspan></text>
<text x="523.5" y="229" font-size="10">u<tspan font-size="6" dy="3">z,max</tspan><tspan dy="-3" dx="1.5"> = 0.3 μm</tspan></text>
<text transform="translate(317.8,108.6) rotate(-90)" font-size="10.2" text-anchor="middle">Mean displacement uncertainty</text>
<text transform="translate(328.5,104.8) rotate(-90)" font-size="10.15" text-anchor="middle">magnitude, |<tspan font-weight="bold">u</tspan><tspan font-size="6" dy="2">err</tspan><tspan dy="-2">| (μm)</tspan></text>
<text transform="translate(321.2,278.3) rotate(-90)" font-size="10.5" text-anchor="middle">Mean traction uncertainty</text>
<text transform="translate(332.2,279.3) rotate(-90)" font-size="10.2" text-anchor="middle">magnitude, |<tspan font-weight="bold">T</tspan><tspan font-size="6" dy="2">err</tspan><tspan dy="-2">| (Pa)</tspan></text>
</svg></body></html>
